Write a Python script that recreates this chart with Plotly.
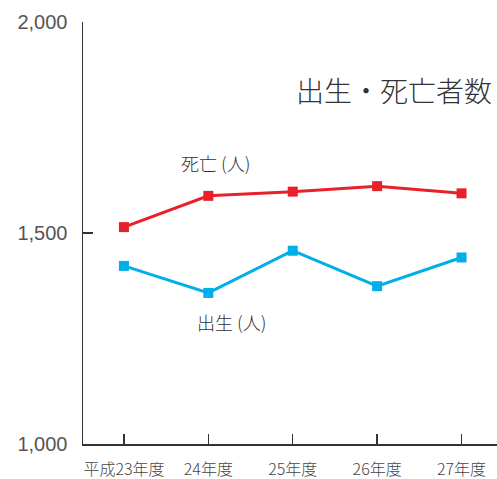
import plotly.graph_objects as go

categories = ["平成23年度", "24年度", "25年度", "26年度", "27年度"]
deaths = [1514, 1588, 1598, 1611, 1594]
births = [1422, 1358, 1458, 1374, 1442]
y_ticks = [1000, 1500, 2000]
y_tick_labels = ["1,000", "1,500", "2,000"]

RED = "#e8202a"
BLUE = "#00aee8"
FONT = "Noto Sans CJK JP"

fig = go.Figure()
fig.add_trace(go.Scatter(x=categories, y=deaths, mode="lines+markers",
                         line=dict(color=RED, width=3),
                         marker=dict(symbol="square", size=10, color=RED),
                         showlegend=False, hoverinfo="skip", cliponaxis=False))
fig.add_trace(go.Scatter(x=categories, y=births, mode="lines+markers",
                         line=dict(color=BLUE, width=3),
                         marker=dict(symbol="square", size=10, color=BLUE),
                         showlegend=False, hoverinfo="skip", cliponaxis=False))

L, R, T, B = 83, 0, 22, 35
W, H = 497, 479
pw, ph = W - L - R, H - T - B

def px(x):
    return (x - L) / pw

def py(y):
    return (H - B - y) / ph

fig.add_annotation(text="出生・死亡者数", xref="paper", yref="paper",
                   x=px(494), y=py(90), xanchor="right", yanchor="middle",
                   showarrow=False,
                   font=dict(family=FONT, size=28, color="#333333", weight=300))
fig.add_annotation(text="死亡 (人)", xref="paper", yref="paper",
                   x=px(215), y=py(163), xanchor="center", yanchor="middle",
                   showarrow=False,
                   font=dict(family=FONT, size=18, color="#333333", weight=300))
fig.add_annotation(text="出生 (人)", xref="paper", yref="paper",
                   x=px(231), y=py(322), xanchor="center", yanchor="middle",
                   showarrow=False,
                   font=dict(family=FONT, size=18, color="#333333", weight=300))

fig.update_layout(
    width=W, height=H,
    margin=dict(l=L, r=R, t=T, b=B, pad=0, autoexpand=False),
    paper_bgcolor="white", plot_bgcolor="white",
    xaxis=dict(type="category", range=[-0.485, 4.42], automargin=False,
               showgrid=False, zeroline=False,
               showline=True, linecolor="#333333", linewidth=1.5,
               ticks="inside", ticklen=10, tickwidth=1.5, tickcolor="#333333",
               tickfont=dict(family=FONT, size=16, color="#444444", weight=300),
               ticklabelstandoff=10),
    yaxis=dict(range=[1000, 2000], tickvals=y_ticks, ticktext=y_tick_labels,
               automargin=False,
               showgrid=False, zeroline=False,
               showline=True, linecolor="#333333", linewidth=1.5,
               ticks="inside", ticklen=10, tickwidth=1.5, tickcolor="#333333",
               tickfont=dict(family="Liberation Sans", size=20, color="#555555"),
               ticklabelstandoff=10),
)

fig.write_html("out.html", config={"displayModeBar": False, "staticPlot": True},
               post_script="document.body.style.margin='0';document.body.style.overflow='hidden';")
